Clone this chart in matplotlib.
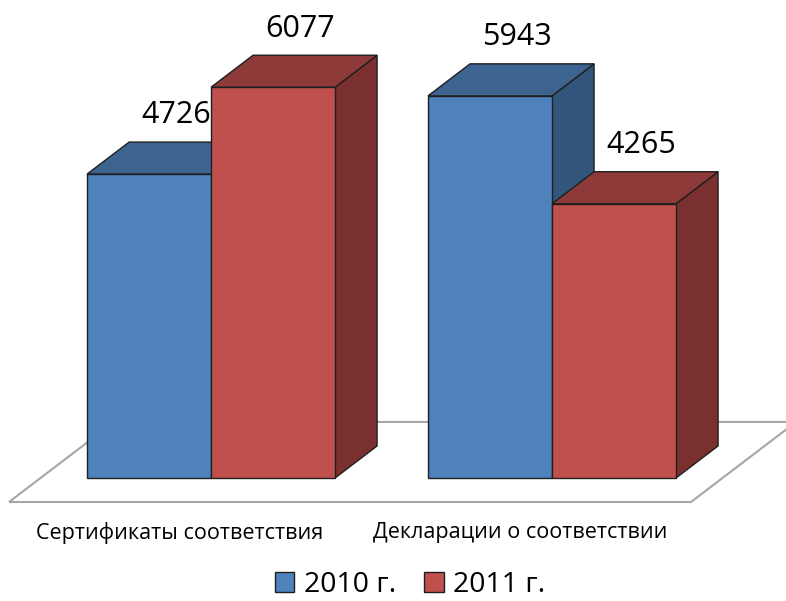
import matplotlib
matplotlib.use("Agg")
import matplotlib.pyplot as plt
from matplotlib.patches import Polygon, Patch

categories = ["Сертификаты соответствия", "Декларации о соответствии"]
series = ["2010 г.", "2011 г."]
values_2010 = [4726, 5943]
values_2011 = [6077, 4265]

front_col = ['#4F81BD', '#C0504D']
top_col = ['#3D6491', '#8E3A39']
side_col = ['#32557B', '#7A302F']

plt.rcParams['font.family'] = ['Open Sans', 'DejaVu Sans']

fig = plt.figure(figsize=(7.86, 6.01), dpi=100)
ax = fig.add_axes([0, 0, 1, 1])
ax.set_xlim(-1.702, 4.637)
ax.set_ylim(-1913, 7434)
ax.axis('off')

gap = 2.75            # distance between category groups (bar widths)
kx, kv = 0.339, 498   # oblique shift for one unit of depth
edge = '#1f1f1f'


def proj(x, v, z):
    return (x + z * kx, v + z * kv)


# floor
fx0, fx1 = -1 - 0.375, gap + 1 + 0.375
floor = [proj(fx0, 0, -0.75), proj(fx1, 0, -0.75), proj(fx1, 0, 1.75), proj(fx0, 0, 1.75)]
ax.add_patch(Polygon(floor, closed=True, fill=False, edgecolor='#A6A6A6', lw=1.5, zorder=1))

data = [values_2010, values_2011]
for gi in range(len(categories)):
    for si in range(len(series)):
        v = data[si][gi]
        x0 = gi * gap - 1 + si
        x1 = x0 + 1
        sidef = [proj(x1, 0, 0), proj(x1, v, 0), proj(x1, v, 1), proj(x1, 0, 1)]
        topf = [proj(x0, v, 0), proj(x1, v, 0), proj(x1, v, 1), proj(x0, v, 1)]
        frontf = [proj(x0, 0, 0), proj(x1, 0, 0), proj(x1, v, 0), proj(x0, v, 0)]
        for pts, c in [(sidef, side_col[si]), (topf, top_col[si]), (frontf, front_col[si])]:
            ax.add_patch(Polygon(pts, closed=True, facecolor=c, edgecolor=edge, lw=1, zorder=2))
        lx, ly = proj(x0 + 0.5, v, 0.65)
        ax.text(lx, ly + 590, str(v), ha='center', va='center', fontsize=22,
                color='black', zorder=10)

    cx, cy = proj(gi * gap, -855, -0.75)
    ax.text(cx, -855, categories[gi], ha='center', va='center', fontsize=15.5, color='black')

handles = [Patch(facecolor=front_col[i], edgecolor=edge, lw=1) for i in range(len(series))]
fig.legend(handles, series, loc='center', bbox_to_anchor=(410 / 786, 0.027), ncol=2,
           frameon=False, fontsize=20.5, handlelength=0.68, handleheight=0.68,
           handletextpad=0.33, columnspacing=1.0, borderaxespad=0, borderpad=0)

fig.savefig('out.png', dpi=100)
